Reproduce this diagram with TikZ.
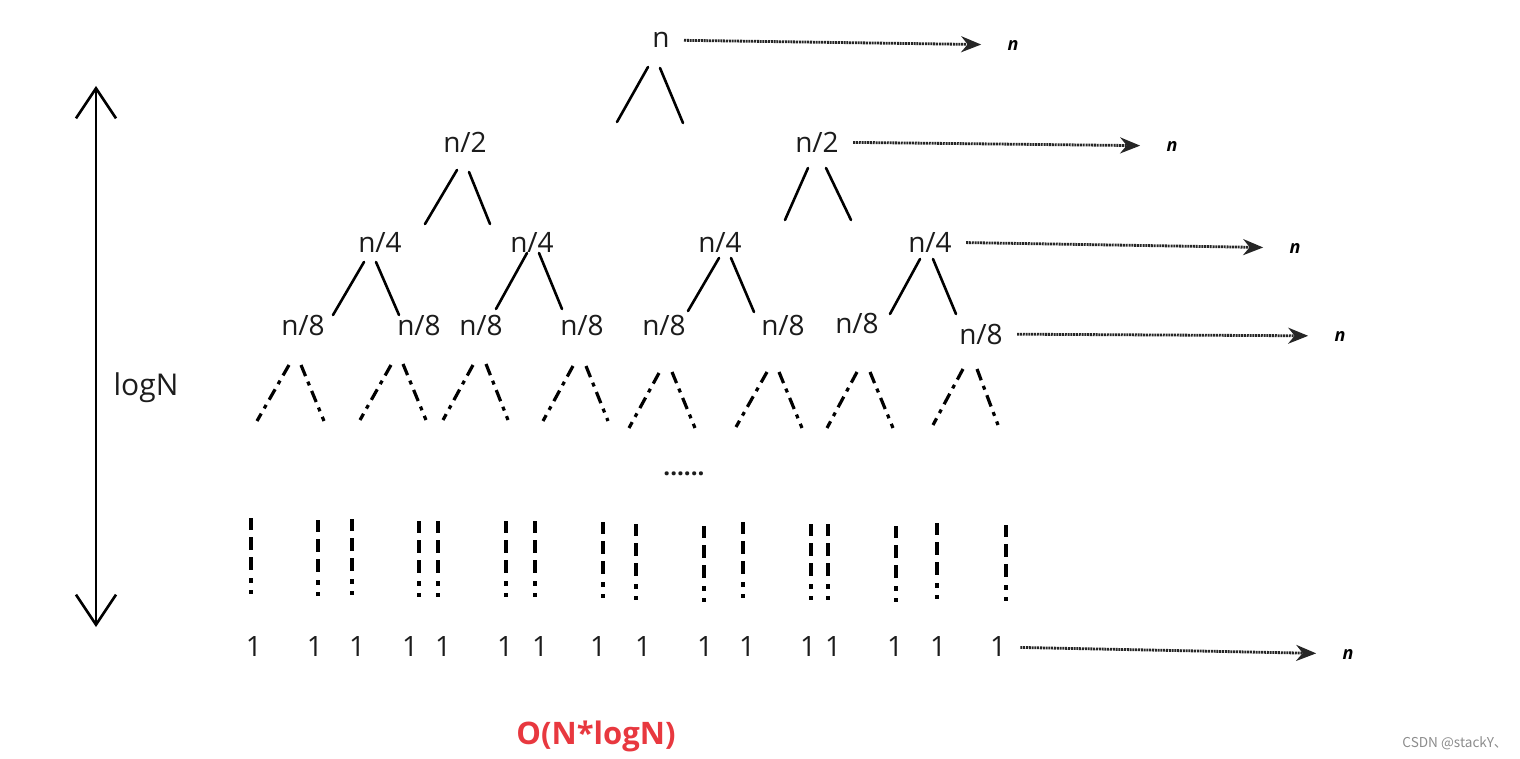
\documentclass[tikz,border=0pt]{standalone}
\usepackage{fontspec}
\setmainfont{Open Sans}
\newfontfamily\cjkfont{Noto Sans CJK SC}
\usepackage{xcolor}
\usetikzlibrary{arrows.meta}
\definecolor{inkgrey}{HTML}{1C1C1C}
\definecolor{costred}{HTML}{E8383F}
\definecolor{markgrey}{HTML}{8C8C8C}
\tikzset{
  term/.style      = {inner sep=0pt, font=\fontsize{14}{16}\selectfont, text=inkgrey},
  sumlbl/.style    = {inner sep=0pt, font=\fontsize{9}{10}\selectfont\bfseries\itshape},
  edgeline/.style  = {line width=1.3pt, line cap=round},
  dashedge/.style  = {line width=1.6pt, dash pattern=on 6pt off 3pt on 2pt off 3pt},
  leafdrop/.style  = {line width=1.8pt, dash pattern=on 6pt off 3.5pt on 6.5pt off 3.5pt on 6.5pt off 4pt on 2.5pt off 3.5pt on 2pt off 60pt},
  flow/.style      = {-{Stealth[length=10pt,width=8pt]}, line width=1.4pt, draw=black!85,
                      dash pattern=on 1pt off 0.4pt, shorten <=7pt, shorten >=13pt},
  depthbar/.style  = {{Straight Barb[length=15pt,width=20pt]}-{Straight Barb[length=15pt,width=20pt]}, line width=1.3pt},
}

\begin{document}
\begin{tikzpicture}[x=0.5pt, y=-0.5pt]
  \useasboundingbox (0,0) rectangle (1520,759);

  % tree levels
  \node[term] (root) at (661,40) {n};
  \node[term] (h1) at (465,142) {n/2};
  \node[term] (h2) at (817,142) {n/2};
  \foreach \x [count=\i] in {380,532,720,930}
    \node[term] (q\i) at (\x,242) {n/4};
  \foreach \x/\y [count=\i] in {303/325,419/325,481/325,582/325,664/325,783/325,857/323,981/334}
    \node[term] (e\i) at (\x,\y) {n/8};
  \foreach \x [count=\i] in {254,315,357,410,443,505,540,598,643,705,747,808,833,895,938,998}
    \node[term] (o\i) at (\x,647) {1};

  % solid strokes under n, n/2, n/4
  \foreach \ax/\ay/\bx/\by in {%
    648/67/617/122, 660/68/683/123,
    457/170/425/224, 469/172/490/224,
    808/168/785/220, 826/168/851/220,
    364/262/333/315, 376/262/399/315,
    527/253/496/309, 539/253/562/309,
    719/258/688/311, 731/258/754/312,
    920/259/890/314, 933/259/956/314%
  } \draw[edgeline] (\ax,\ay) -- (\bx,\by);

  % dashed wedges under n/8
  \foreach \ax/\ay/\bx/\by in {%
    289/365/257/421, 301/365/324/421,
    391/365/360/420, 403/364/426/420,
    473/365/443/420, 486/364/508/420,
    573/366/543/421, 586/366/608/421,
    659/373/629/428, 672/372/695/428,
    767/372/736/427, 779/372/802/428,
    857/372/827/428, 870/372/893/428,
    963/369/933/425, 977/369/998/425%
  } \draw[dashedge] (\ax,\ay) -- (\bx,\by);

  \node[term, font=\fontsize{12}{14}\selectfont\bfseries] (more) at (684,474) {......};

  % dashed drops down to the leaves
  \foreach \x/\t in {251/518,318/520,352/519,419/521,438/521,506/521,535/521,603/522,
                     636/524,704/526,743/522,811/524,828/524,896/526,937/523,1006/525}
    \draw[leafdrop] (\x,\t) -- (\x,\t+76);

  % cost of each level
  \foreach \src/\x/\y [count=\i] in {root/1013/45, h2/1172/146, q4/1295/248, e8/1340/336, o16/1348/654} {
    \node[sumlbl] (s\i) at (\x,\y) {n};
    \draw[flow] (\src) -- (s\i);
  }

  % depth of the tree
  \coordinate (top) at (96,86);
  \coordinate (bot) at (96,627);
  \draw[depthbar] (bot) -- (top);
  \node[term, font=\fontsize{15}{17}\selectfont] (depth) at (146,388) {logN};

  \node[inner sep=0pt, font=\fontsize{15.5}{18}\selectfont\bfseries, text=costred] (cost) at (596,736) {O(N*logN)};
  \node[inner sep=0pt, font=\cjkfont\fontsize{6.8}{8}\selectfont, text=markgrey] (mark) at (1455,743) {CSDN @stackY、};
\end{tikzpicture}
\end{document}
